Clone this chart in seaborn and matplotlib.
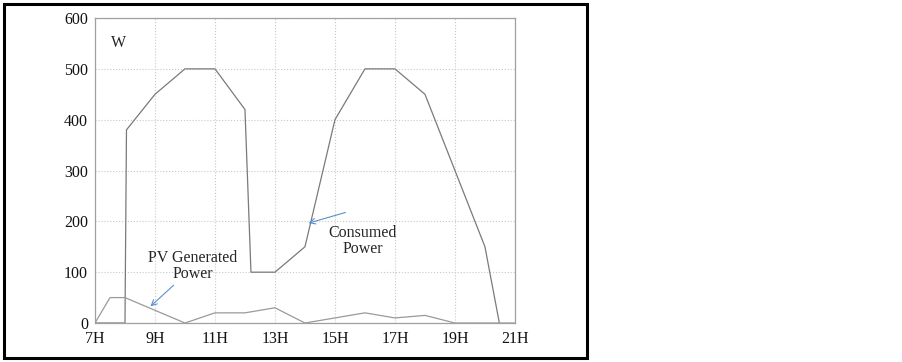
import numpy as np
import pandas as pd
import matplotlib
matplotlib.use('Agg')
import matplotlib.pyplot as plt
import seaborn as sns
from matplotlib.patches import Rectangle

# hours and values
consumed_hours = [7, 8, 8.05, 9, 10, 11, 12, 12.2, 13, 14, 15, 16, 17, 18, 19, 20, 20.48]
consumed_watts = [0, 0, 380, 450, 500, 500, 420, 100, 100, 150, 400, 500, 500, 450, 300, 150, 0]

pv_hours = [7, 7.5, 8, 9, 10, 11, 12, 13, 14, 15, 16, 17, 18, 19, 20, 21]
pv_watts = [0, 50, 50, 25, 0, 20, 20, 30, 0, 10, 20, 10, 15, 0, 0, 0]

tick_hours = [7, 9, 11, 13, 15, 17, 19, 21]
tick_labels = ['7H', '9H', '11H', '13H', '15H', '17H', '19H', '21H']

consumed = pd.DataFrame({'hour': consumed_hours, 'power': consumed_watts})
pv = pd.DataFrame({'hour': pv_hours, 'power': pv_watts})

sns.set_style('white')
plt.rcParams['font.family'] = ['Liberation Serif', 'DejaVu Serif']

fig = plt.figure(figsize=(9.02, 3.62), dpi=100)
ax = fig.add_axes([0.1053, 0.1077, 0.4656, 0.8425])

sns.lineplot(data=consumed, x='hour', y='power', ax=ax, color='#7a7a7a', lw=0.9)
sns.lineplot(data=pv, x='hour', y='power', ax=ax, color='#9a9a9a', lw=0.9)

ax.set_xlim(7, 21)
ax.set_ylim(0, 600)
ax.set_xticks(tick_hours)
ax.set_xticklabels(tick_labels)
ax.set_yticks(range(0, 601, 100))
ax.set_xlabel('')
ax.set_ylabel('')
ax.tick_params(labelsize=11.5, length=0, colors='#111111')
ax.tick_params(axis='y', pad=5)
ax.tick_params(axis='x', pad=6)
ax.grid(True, color='#c8c8c8', linestyle=':', lw=0.8)
for s in ax.spines.values():
    s.set_color('#a0a0a0')
    s.set_linewidth(0.9)

ax.text(7.55, 550, 'W', fontsize=11.5, ha='left', va='center')

ax.text(10.27, 112, 'PV Generated\nPower', fontsize=11.5, ha='center', va='center', linespacing=1.05)
ax.annotate('', xy=(8.78, 29), xytext=(9.69, 78),
            arrowprops=dict(arrowstyle='->', color='#5b8fd0', lw=0.8))

ax.text(15.92, 161, 'Consumed\nPower', fontsize=11.5, ha='center', va='center', linespacing=1.05)
ax.annotate('', xy=(14.03, 195), xytext=(15.44, 219),
            arrowprops=dict(arrowstyle='->', color='#5b8fd0', lw=0.8))

# outer black frame
fig.patches.append(Rectangle((0.0044, 0.011), 0.6463, 0.978, transform=fig.transFigure,
                             fill=False, edgecolor='black', lw=2.2))

fig.savefig('out.png', dpi=100)
